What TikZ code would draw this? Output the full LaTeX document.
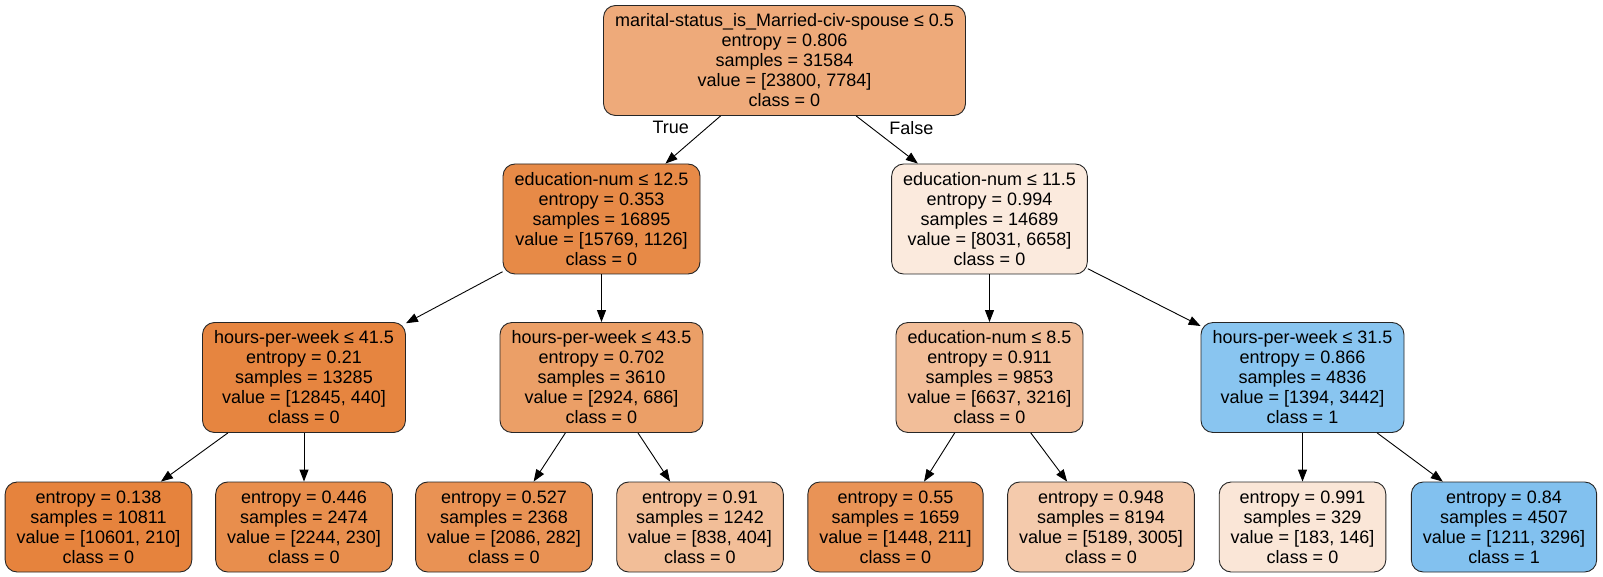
\documentclass[tikz,border=0pt]{standalone}
\usepackage{fontspec}
\setmainfont{Liberation Sans}
\usetikzlibrary{arrows.meta, positioning}
\usepackage{xcolor}
\definecolor{rootfill}{RGB}{238,170,122}
\definecolor{eduAfill}{RGB}{231,138,71}
\definecolor{eduBfill}{RGB}{251,234,221}
\definecolor{hpwAfill}{RGB}{230,133,64}
\definecolor{hpwBfill}{RGB}{235,159,103}
\definecolor{eduCfill}{RGB}{242,190,153}
\definecolor{hpwCfill}{RGB}{137,197,240}
\definecolor{leafAfill}{RGB}{230,131,61}
\definecolor{leafBfill}{RGB}{232,142,77}
\definecolor{leafCfill}{RGB}{233,146,84}
\definecolor{leafDfill}{RGB}{242,190,152}
\definecolor{leafEfill}{RGB}{233,147,86}
\definecolor{leafFfill}{RGB}{244,202,172}
\definecolor{leafGfill}{RGB}{250,230,215}
\definecolor{leafHfill}{RGB}{130,193,239}
\tikzset{
  split/.style={
    rectangle, rounded corners=12pt, draw=black!85, line width=0.9pt,
    inner xsep=11.5pt, minimum height=110pt,
    align=center, font=\fontsize{18}{20}\selectfont
  },
  leaf/.style={
    split, minimum height=90pt
  },
  arrow/.style={-{Triangle[length=12pt,width=9pt]}, line width=0.9pt, draw=black},
  edgelabel/.style={font=\fontsize{18}{20}\selectfont}
}

\begin{document}
\begin{tikzpicture}[x=1pt, y=-1pt]
  \useasboundingbox (0,0) rectangle (1603,577);

  % split nodes
  \node[split, fill=rootfill] (root) at (784.5,60.5)
    {marital-status\_is\_Married-civ-spouse ≤ 0.5\\entropy = 0.806\\samples = 31584\\value = [23800, 7784]\\class = 0};
  \node[split, fill=eduAfill] (edu125) at (601.5,219)
    {education-num ≤ 12.5\\entropy = 0.353\\samples = 16895\\value = [15769, 1126]\\class = 0};
  \node[split, fill=eduBfill] (edu115) at (989.5,219)
    {education-num ≤ 11.5\\entropy = 0.994\\samples = 14689\\value = [8031, 6658]\\class = 0};
  \node[split, fill=hpwAfill] (hpw415) at (304,377.5)
    {hours-per-week ≤ 41.5\\entropy = 0.21\\samples = 13285\\value = [12845, 440]\\class = 0};
  \node[split, fill=hpwBfill] (hpw435) at (601.5,377.5)
    {hours-per-week ≤ 43.5\\entropy = 0.702\\samples = 3610\\value = [2924, 686]\\class = 0};
  \node[split, fill=eduCfill] (edu85) at (989.5,377.5)
    {education-num ≤ 8.5\\entropy = 0.911\\samples = 9853\\value = [6637, 3216]\\class = 0};
  \node[split, fill=hpwCfill] (hpw315) at (1302.5,377.5)
    {hours-per-week ≤ 31.5\\entropy = 0.866\\samples = 4836\\value = [1394, 3442]\\class = 1};

  % leaves
  \node[leaf, fill=leafAfill] (leafa) at (98.5,527)
    {entropy = 0.138\\samples = 10811\\value = [10601, 210]\\class = 0};
  \node[leaf, fill=leafBfill] (leafb) at (304,527)
    {entropy = 0.446\\samples = 2474\\value = [2244, 230]\\class = 0};
  \node[leaf, fill=leafCfill] (leafc) at (504,527)
    {entropy = 0.527\\samples = 2368\\value = [2086, 282]\\class = 0};
  \node[leaf, fill=leafDfill] (leafd) at (700,527)
    {entropy = 0.91\\samples = 1242\\value = [838, 404]\\class = 0};
  \node[leaf, fill=leafEfill] (leafe) at (895.5,527)
    {entropy = 0.55\\samples = 1659\\value = [1448, 211]\\class = 0};
  \node[leaf, fill=leafFfill] (leaff) at (1101,527)
    {entropy = 0.948\\samples = 8194\\value = [5189, 3005]\\class = 0};
  \node[leaf, fill=leafGfill] (leafg) at (1302.5,527)
    {entropy = 0.991\\samples = 329\\value = [183, 146]\\class = 0};
  \node[leaf, fill=leafHfill] (leafh) at (1504,527)
    {entropy = 0.84\\samples = 4507\\value = [1211, 3296]\\class = 1};

  % edges
  \draw[arrow] (root) -- node[edgelabel, pos=0.25, left=14pt] {True} (edu125);
  \draw[arrow] (root) -- node[edgelabel, pos=0.25, right=14pt] {False} (edu115);
  \draw[arrow] (edu125) -- (hpw415);
  \draw[arrow] (edu125) -- (hpw435);
  \draw[arrow] (edu115) -- (edu85);
  \draw[arrow] (edu115) -- (hpw315);
  \draw[arrow] (hpw415) -- (leafa);
  \draw[arrow] (hpw415) -- (leafb);
  \draw[arrow] (hpw435) -- (leafc);
  \draw[arrow] (hpw435) -- (leafd);
  \draw[arrow] (edu85) -- (leafe);
  \draw[arrow] (edu85) -- (leaff);
  \draw[arrow] (hpw315) -- (leafg);
  \draw[arrow] (hpw315) -- (leafh);
\end{tikzpicture}
\end{document}
